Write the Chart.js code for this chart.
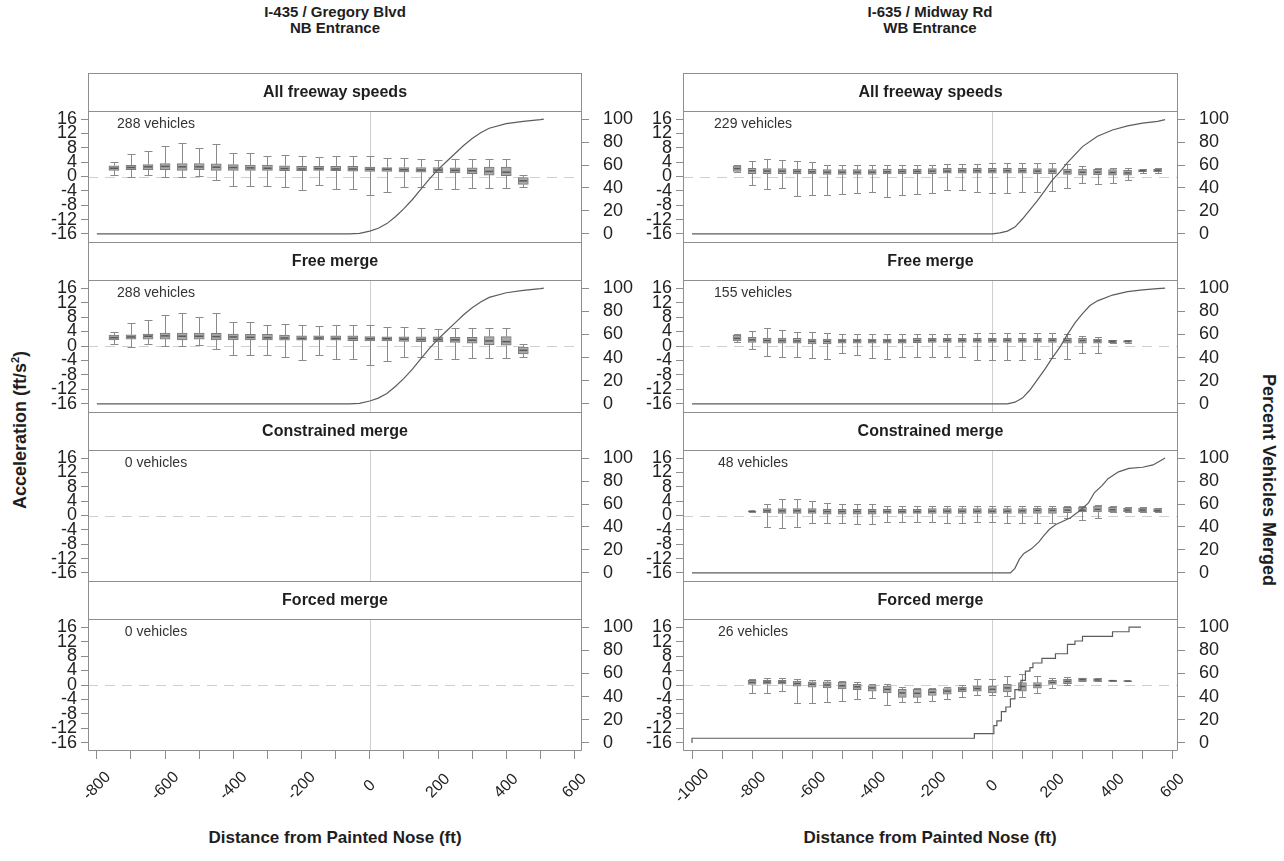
<!DOCTYPE html>
<html>
<head>
<meta charset="utf-8">
<script src="https://cdn.jsdelivr.net/npm/chart.js@4.4.1/dist/chart.umd.min.js"></script>
<style>
html,body{margin:0;padding:0;background:#fff;}
#wrap{position:relative;width:1284px;height:861px;overflow:hidden;background:#fff;font-family:"Liberation Sans",Arial,Helvetica,sans-serif;color:#1e1e1e;}
#wrap canvas{position:absolute;}
.lbl{position:absolute;font-weight:bold;white-space:nowrap;text-align:center;}
.rot{position:absolute;font-weight:bold;white-space:nowrap;}
</style>
</head>
<body>
<div id="wrap">
  <div class="lbl" style="left:135px;top:4px;width:400px;font-size:15px;line-height:16px;">I-435 / Gregory Blvd<br>NB Entrance</div>
  <div class="lbl" style="left:730px;top:4px;width:400px;font-size:15px;line-height:16px;">I-635 / Midway Rd<br>WB Entrance</div>
  <div class="rot" style="left:20px;top:430px;font-size:18px;transform:translate(-50%,-50%) rotate(-90deg);">Acceleration (ft/s<sup style="font-size:11px;">2</sup>)</div>
  <div class="rot" style="left:1268px;top:480px;font-size:18px;transform:translate(-50%,-50%) rotate(90deg);">Percent Vehicles Merged</div>
  <div class="lbl" style="left:135px;top:828px;width:400px;font-size:17px;">Distance from Painted Nose (ft)</div>
  <div class="lbl" style="left:730px;top:828px;width:400px;font-size:17px;">Distance from Painted Nose (ft)</div>
</div>
<script>
// ---------- tick values / labels ----------
const accTicks = [-16,-12,-8,-4,0,4,8,12,16];
const pctTicks = [0,20,40,60,80,100];
const distTicksLeft = [-800,-700,-600,-500,-400,-300,-200,-100,0,100,200,300,400,500,600];
const distLabelsLeft = ['-800','-600','-400','-200','0','200','400','600'];
const distTicksRight = [-1000,-900,-800,-700,-600,-500,-400,-300,-200,-100,0,100,200,300,400,500,600];
const distLabelsRight = ['-1000','-800','-600','-400','-200','0','200','400','600'];

// ---------- panel titles ----------
const stripTitles = ['All freeway speeds','Free merge','Constrained merge','Forced merge'];
const countsLeft = ['288 vehicles','288 vehicles','0 vehicles','0 vehicles'];
const countsRight = ['229 vehicles','155 vehicles','48 vehicles','26 vehicles'];

// ---------- I-435 / Gregory Blvd (all freeway speeds = free merge) ----------
const leftPos  = [-750,-700,-650,-600,-550,-500,-450,-400,-350,-300,-250,-200,-150,-100,-50,0,50,100,150,200,250,300,350,400,450];
const leftLow  = [0.5,-0.2,0.5,0.0,0.0,0.2,-0.9,-2.6,-2.6,-2.6,-3.0,-3.8,-2.4,-3.6,-3.6,-5.2,-4.2,-3.0,-3.0,-3.6,-3.6,-3.3,-3.3,-3.3,-3.0];
const leftQ1   = [1.7,1.9,1.9,1.9,1.7,1.9,1.7,1.7,1.7,1.7,1.6,1.6,1.7,1.6,1.5,1.4,1.4,1.3,1.2,1.1,1.0,0.8,0.4,0.2,-2.2];
const leftMed  = [2.3,2.5,2.7,2.8,2.7,2.7,2.6,2.5,2.4,2.3,2.2,2.1,2.2,2.1,2.1,2.0,2.0,1.9,1.8,1.8,1.7,1.6,1.4,1.2,-1.2];
const leftQ3   = [3.0,3.1,3.3,3.6,3.6,3.6,3.5,3.3,3.2,3.2,3.0,2.8,2.8,2.8,2.8,2.6,2.5,2.5,2.5,2.5,2.4,2.4,2.6,2.6,-0.3];
const leftHigh = [4.0,6.3,7.1,8.5,9.2,8.0,9.0,6.6,6.6,5.8,6.1,5.7,5.4,5.7,5.8,5.8,5.2,5.2,4.9,4.7,4.9,4.9,4.9,4.9,0.5];
const leftCumX = [-800,-60,-30,0,25,50,75,100,125,150,175,200,225,250,275,300,325,350,400,450,500,510];
const leftCumY = [0,0,0.5,2.5,5,9,15,22,30,39,48,56,63,70,77,83,88,92,96,98,99.5,100];

// ---------- I-635 / Midway Rd : all freeway speeds ----------
const rAllPos  = [-850,-800,-750,-700,-650,-600,-550,-500,-450,-400,-350,-300,-250,-200,-150,-100,-50,0,50,100,150,200,250,300,350,400,450,500,550];
const rAllLow  = [1.2,-2.4,-3.6,-3.3,-5.4,-5.2,-5.2,-4.9,-4.5,-4.3,-5.7,-5.2,-5.0,-4.5,-3.8,-3.8,-4.3,-4.7,-4.5,-4.3,-4.3,-4.0,-3.3,-1.9,-2.1,-1.9,-0.9,1.0,1.0];
const rAllQ1   = [1.4,0.8,0.8,0.8,0.7,0.7,0.6,0.6,0.6,0.6,0.7,0.8,0.8,0.8,0.9,0.9,0.9,0.9,0.9,0.9,0.8,0.8,0.6,0.4,0.5,0.4,0.4,1.3,1.3];
const rAllMed  = [2.2,1.6,1.5,1.5,1.4,1.3,1.2,1.2,1.2,1.2,1.3,1.4,1.4,1.5,1.5,1.6,1.6,1.6,1.6,1.6,1.5,1.5,1.3,1.2,1.2,1.1,1.0,1.6,1.7];
const rAllQ3   = [3.0,2.3,2.2,2.2,2.1,2.0,1.9,1.9,1.9,1.9,2.1,2.1,2.1,2.2,2.3,2.3,2.3,2.3,2.3,2.3,2.2,2.2,2.1,2.1,2.0,1.9,1.7,1.9,2.1];
const rAllHigh = [3.2,4.4,5.0,4.7,4.2,4.1,3.3,3.3,3.3,3.3,3.3,3.3,3.3,3.3,3.5,3.5,3.5,3.8,3.8,3.8,3.8,3.8,3.6,3.0,2.5,2.4,2.4,2.1,2.3];
const rAllCumX = [-1000,0,25,50,75,100,125,150,175,200,225,250,275,300,350,400,450,500,550,575];
const rAllCumY = [0,0,1,2.5,6,13,21,29,38,47,54,62,69,76,85,90.5,94,96.5,98,99.5];

// ---------- I-635 : free merge ----------
const rFreePos  = [-850,-800,-750,-700,-650,-600,-550,-500,-450,-400,-350,-300,-250,-200,-150,-100,-50,0,50,100,150,200,250,300,350,400,450];
const rFreeLow  = [1.2,-0.9,-2.8,-3.0,-3.0,-3.3,-3.6,-1.9,-2.4,-3.3,-3.6,-3.0,-3.0,-3.0,-3.0,-3.0,-3.8,-4.0,-4.0,-4.0,-3.6,-3.3,-3.6,-1.9,-1.9,0.9,0.9];
const rFreeQ1   = [1.4,1.0,0.8,0.8,0.8,0.6,0.6,0.8,0.8,0.8,0.8,0.8,0.9,1.0,1.0,1.0,1.0,1.0,1.0,1.0,1.0,1.0,0.8,0.8,0.8,0.9,1.0];
const rFreeMed  = [2.1,1.7,1.5,1.5,1.4,1.3,1.3,1.4,1.4,1.4,1.4,1.4,1.5,1.6,1.6,1.6,1.6,1.6,1.6,1.6,1.6,1.6,1.5,1.5,1.4,1.3,1.3];
const rFreeQ3   = [3.0,2.4,2.2,2.2,2.1,1.9,1.9,1.9,1.9,1.9,1.9,1.9,2.1,2.1,2.1,2.1,2.1,2.1,2.1,2.1,2.1,2.1,2.1,2.1,1.9,1.6,1.5];
const rFreeHigh = [3.2,4.2,4.9,4.5,3.9,3.8,3.6,3.3,3.3,3.3,3.3,3.3,3.3,3.3,3.3,3.3,3.5,3.5,3.5,3.5,3.5,3.5,3.3,2.8,2.4,1.7,1.6];
const rFreeCumX = [-1000,50,75,100,125,150,175,200,225,250,275,300,325,350,400,450,500,550,575];
const rFreeCumY = [0,0,1.5,5,12,21,30,40,49,60,70,78,85,89,94,97,98.5,99.5,100];

// ---------- I-635 : constrained merge ----------
const rConPos  = [-800,-750,-700,-650,-600,-550,-500,-450,-400,-350,-300,-250,-200,-150,-100,-50,0,50,100,150,200,250,300,350,400,450,500,550];
const rConLow  = [1.0,-3.1,-3.4,-3.1,-2.2,-2.2,-2.2,-2.5,-2.5,-1.7,-1.7,-1.7,-1.7,-2.2,-2.2,-1.7,-1.7,-2.2,-2.2,-2.2,-2.2,-0.8,-1.2,-0.8,0.9,0.9,0.9,1.0];
const rConQ1   = [1.0,0.7,0.6,0.6,0.6,0.4,0.4,0.4,0.4,0.6,0.6,0.6,0.6,0.6,0.6,0.6,0.6,0.6,0.6,0.6,0.6,0.8,1.0,1.0,1.0,1.0,1.0,1.1];
const rConMed  = [1.2,1.3,1.3,1.3,1.2,1.1,1.1,1.1,1.1,1.1,1.1,1.1,1.2,1.2,1.2,1.2,1.2,1.2,1.3,1.4,1.4,1.5,1.5,1.7,1.6,1.5,1.5,1.4];
const rConQ3   = [1.3,1.9,1.9,1.9,1.9,1.7,1.7,1.7,1.7,1.7,1.7,1.7,1.9,1.9,1.9,1.9,1.9,1.9,1.9,2.1,2.1,2.3,2.3,2.6,2.3,2.1,2.1,1.9];
const rConHigh = [1.3,3.2,4.5,4.7,4.0,3.5,3.2,3.2,3.3,2.6,2.6,2.6,2.6,2.6,2.6,2.6,2.6,2.6,2.6,2.6,2.6,2.7,2.7,2.9,2.6,2.3,2.3,2.0];
const rConCumX = [-1000,60,75,90,105,130,155,170,190,210,235,260,295,320,340,365,385,420,455,500,535,555,575];
const rConCumY = [0,0,4,12,17,21,27,32,38,42,45,48,55,61,70,76,82,88,91,92,94,97,100];

// ---------- I-635 : forced merge ----------
const rForPos  = [-800,-750,-700,-650,-600,-550,-500,-450,-400,-350,-300,-250,-200,-150,-100,-50,0,50,100,150,200,250,300,350,400,450];
const rForLow  = [-2.2,-2.2,-1.7,-5.0,-5.0,-4.8,-4.4,-3.8,-3.6,-5.5,-4.8,-4.8,-4.4,-3.8,-3.4,-2.9,-2.9,-3.1,-3.4,-2.2,-0.8,0.0,1.0,1.0,1.0,1.0];
const rForQ1   = [0.0,0.2,0.2,-0.3,-0.6,-0.8,-1.1,-1.3,-1.7,-2.2,-3.4,-3.4,-2.9,-2.5,-1.9,-1.7,-2.2,-1.9,-1.7,-0.9,0.0,0.4,1.0,1.0,1.0,1.0];
const rForMed  = [0.7,0.8,0.8,0.4,0.2,0.0,-0.2,-0.5,-0.8,-1.2,-2.2,-2.3,-2.0,-1.7,-1.2,-1.0,-1.2,-0.8,-0.4,-0.1,0.7,1.0,1.5,1.4,1.2,1.1];
const rForQ3   = [1.3,1.3,1.3,1.1,0.9,0.9,0.8,0.2,0.0,-0.3,-1.2,-1.2,-1.2,-1.0,-0.6,-0.3,-0.3,0.2,0.7,0.7,1.3,1.6,1.9,1.8,1.3,1.2];
const rForHigh = [1.6,1.8,1.8,1.6,1.3,1.3,1.1,0.7,0.4,0.4,-0.6,-0.8,-0.8,-0.6,0.0,1.6,1.6,2.6,3.0,2.6,1.9,2.1,1.9,1.8,1.3,1.2];
const rForCumX = [-1000,-60,5,15,30,45,60,75,95,110,125,135,165,210,250,275,300,350,400,455,478,495];
const rForCumY = [0,4,8,15,19,27,31,38,46,54,62,65,69,73,77,85,88,92,92,96,100,100];

// ---------- layout ----------
Chart.defaults.font.family = '"Liberation Sans", Arial, Helvetica, sans-serif';
Chart.defaults.color = '#222';
const TOPS = [73, 242, 412, 581, 751];
const STRIP_H = 38;
const PAD_B = 12;
const COLS = {
  L: {left: 30, width: 630, axisL: 58, axisR: 78, xmin: -826, xmax: 622, ticks: distTicksLeft, labels: distLabelsLeft, barW: 10, capW: 8, countDx: 68},
  R: {left: 625, width: 625, axisL: 58, axisR: 72, xmin: -1030, xmax: 618, ticks: distTicksRight, labels: distLabelsRight, barW: 8, capW: 7, countDx: 70}
};
const FRAME = '#8e8e8e';

function deco(p, g, row) {
  return {
    id: 'panelDeco',
    beforeDatasetsDraw(chart) {
      const {ctx, chartArea: a} = chart;
      const xs = chart.scales.x, ys = chart.scales.y;
      ctx.save();
      ctx.beginPath(); ctx.rect(a.left, a.top, a.right - a.left, a.bottom - a.top); ctx.clip();
      ctx.lineWidth = 1; ctx.strokeStyle = '#cfcfcf';
      const x0 = Math.round(xs.getPixelForValue(0)) + 0.5;
      ctx.beginPath(); ctx.moveTo(x0, a.top); ctx.lineTo(x0, a.bottom); ctx.stroke();
      const y0 = Math.round(ys.getPixelForValue(0)) + 0.5;
      ctx.setLineDash([10, 7]);
      ctx.beginPath(); ctx.moveTo(a.left, y0); ctx.lineTo(a.right, y0); ctx.stroke();
      ctx.setLineDash([]);
      if (p.pos) {
        ctx.strokeStyle = '#8a8a8a';
        p.pos.forEach((v, i) => {
          const px = Math.round(xs.getPixelForValue(v)) + 0.5;
          const yl = Math.round(ys.getPixelForValue(p.low[i])) + 0.5;
          const y1 = ys.getPixelForValue(p.q1[i]);
          const y3 = ys.getPixelForValue(p.q3[i]);
          const yh = Math.round(ys.getPixelForValue(p.high[i])) + 0.5;
          ctx.beginPath();
          ctx.moveTo(px, y1); ctx.lineTo(px, yl);
          ctx.moveTo(px, y3); ctx.lineTo(px, yh);
          ctx.moveTo(px - g.capW / 2, yl); ctx.lineTo(px + g.capW / 2, yl);
          ctx.moveTo(px - g.capW / 2, yh); ctx.lineTo(px + g.capW / 2, yh);
          ctx.stroke();
        });
      }
      ctx.restore();
    },
    afterDatasetsDraw(chart) {
      if (!p.pos) return;
      const {ctx} = chart;
      const xs = chart.scales.x, ys = chart.scales.y;
      ctx.save();
      ctx.strokeStyle = '#5a5a5a'; ctx.lineWidth = 1.5;
      p.pos.forEach((v, i) => {
        const px = xs.getPixelForValue(v);
        const ym = ys.getPixelForValue(p.med[i]);
        ctx.beginPath(); ctx.moveTo(px - g.barW / 2 + 1, ym); ctx.lineTo(px + g.barW / 2 - 1, ym); ctx.stroke();
      });
      ctx.restore();
    },
    afterDraw(chart) {
      const {ctx, chartArea: a} = chart;
      const L = Math.round(a.left) + 0.5, R = Math.round(a.right) - 0.5;
      const T = Math.round(a.top) + 0.5, B = Math.round(a.bottom) + (row === 3 ? -0.5 : 0.5);
      const S = T - STRIP_H;
      ctx.save();
      ctx.strokeStyle = FRAME; ctx.lineWidth = 1;
      ctx.strokeRect(L, S, R - L, STRIP_H);
      ctx.beginPath(); ctx.moveTo(L, T); ctx.lineTo(L, B); ctx.lineTo(R, B); ctx.lineTo(R, T); ctx.stroke();
      ctx.fillStyle = '#1e1e1e';
      ctx.font = 'bold 16px "Liberation Sans", Arial, sans-serif';
      ctx.textAlign = 'center'; ctx.textBaseline = 'middle';
      ctx.fillText(p.strip, (L + R) / 2, S + STRIP_H / 2);
      ctx.font = '14px "Liberation Sans", Arial, sans-serif';
      ctx.fillStyle = '#333';
      ctx.fillText(p.count, a.left + g.countDx, a.top + 13);
      if (row === 3) {
        const xs = chart.scales.x;
        ctx.fillStyle = '#222';
        ctx.font = '16px "Liberation Sans", Arial, sans-serif';
        g.labels.forEach(lb => {
          const px = xs.getPixelForValue(Number(lb));
          ctx.save();
          ctx.translate(px, a.bottom + 35);
          ctx.rotate(-Math.PI / 4);
          ctx.fillText(lb, 0, 0);
          ctx.restore();
        });
      }
      ctx.restore();
    }
  };
}

function addPanel(col, row, p) {
  const g = COLS[col];
  const isBottom = row === 3;
  const padB = isBottom ? 60 : PAD_B;
  const H = TOPS[row + 1] - TOPS[row] + (isBottom ? 70 : PAD_B);
  const cv = document.createElement('canvas');
  cv.width = g.width; cv.height = H;
  cv.style.left = g.left + 'px'; cv.style.top = TOPS[row] + 'px';
  cv.style.width = g.width + 'px'; cv.style.height = H + 'px';
  document.getElementById('wrap').appendChild(cv);

  const datasets = [];
  if (p.cumX) datasets.push({
    type: 'line', yAxisID: 'y2', order: 0,
    data: p.cumX.map((x, i) => ({x: x, y: p.cumY[i]})),
    borderColor: '#5c5c5c', borderWidth: 1.2, pointRadius: 0, pointBorderWidth: 0, tension: 0,
    stepped: p.stepped ? 'after' : false
  });
  if (p.pos) datasets.push({
    type: 'bar', yAxisID: 'y', order: 1,
    data: p.pos.map((x, i) => ({x: x, y: [p.q1[i], p.q3[i]]})),
    backgroundColor: '#a9a9a9', borderColor: '#7b7b7b', borderWidth: 1,
    borderSkipped: false, barThickness: g.barW
  });

  new Chart(cv, {
    type: 'bar',
    data: {datasets},
    options: {
      responsive: false, animation: false, devicePixelRatio: 1,
      layout: {autoPadding: false, padding: {top: STRIP_H, bottom: padB, left: 0, right: 0}},
      plugins: {legend: {display: false}, tooltip: {enabled: false}},
      scales: {
        x: {
          type: 'linear', min: g.xmin, max: g.xmax, offset: false, display: isBottom,
          afterBuildTicks: s => { s.ticks = g.ticks.map(v => ({value: v})); },
          afterFit: s => { s.height = isBottom ? 10 : 0; s.paddingLeft = 0; s.paddingRight = 0; },
          grid: {offset: false, drawOnChartArea: false, drawTicks: true, tickLength: 8, color: '#8c8c8c'},
          border: {display: false},
          ticks: {callback: () => '', autoSkip: false, maxRotation: 0, minRotation: 0}
        },
        y: {
          type: 'linear', position: 'left', min: -18.24, max: 18.24,
          afterBuildTicks: s => { s.ticks = accTicks.map(v => ({value: v})); },
          afterFit: s => { s.width = g.axisL; s.paddingTop = 0; s.paddingBottom = 0; },
          grid: {drawOnChartArea: false, drawTicks: true, tickLength: 7, color: '#8c8c8c'},
          border: {display: false},
          ticks: {autoSkip: false, padding: 4, font: {size: 18}, color: '#222', callback: v => String(v)}
        },
        y2: {
          type: 'linear', position: 'right', min: -7, max: 107,
          afterBuildTicks: s => { s.ticks = pctTicks.map(v => ({value: v})); },
          afterFit: s => { s.width = g.axisR; s.paddingTop = 0; s.paddingBottom = 0; },
          grid: {drawOnChartArea: false, drawTicks: true, tickLength: 7, color: '#8c8c8c'},
          border: {display: false},
          ticks: {autoSkip: false, padding: 14, font: {size: 18}, color: '#222', callback: v => String(v)}
        }
      }
    },
    plugins: [deco(p, g, row)]
  });
}

// left column
addPanel('L', 0, {strip: stripTitles[0], count: countsLeft[0], pos: leftPos, low: leftLow, q1: leftQ1, med: leftMed, q3: leftQ3, high: leftHigh, cumX: leftCumX, cumY: leftCumY});
addPanel('L', 1, {strip: stripTitles[1], count: countsLeft[1], pos: leftPos, low: leftLow, q1: leftQ1, med: leftMed, q3: leftQ3, high: leftHigh, cumX: leftCumX, cumY: leftCumY});
addPanel('L', 2, {strip: stripTitles[2], count: countsLeft[2]});
addPanel('L', 3, {strip: stripTitles[3], count: countsLeft[3]});
// right column
addPanel('R', 0, {strip: stripTitles[0], count: countsRight[0], pos: rAllPos, low: rAllLow, q1: rAllQ1, med: rAllMed, q3: rAllQ3, high: rAllHigh, cumX: rAllCumX, cumY: rAllCumY});
addPanel('R', 1, {strip: stripTitles[1], count: countsRight[1], pos: rFreePos, low: rFreeLow, q1: rFreeQ1, med: rFreeMed, q3: rFreeQ3, high: rFreeHigh, cumX: rFreeCumX, cumY: rFreeCumY});
addPanel('R', 2, {strip: stripTitles[2], count: countsRight[2], pos: rConPos, low: rConLow, q1: rConQ1, med: rConMed, q3: rConQ3, high: rConHigh, cumX: rConCumX, cumY: rConCumY});
addPanel('R', 3, {strip: stripTitles[3], count: countsRight[3], pos: rForPos, low: rForLow, q1: rForQ1, med: rForMed, q3: rForQ3, high: rForHigh, cumX: rForCumX, cumY: rForCumY, stepped: true});
</script>
</body>
</html>
